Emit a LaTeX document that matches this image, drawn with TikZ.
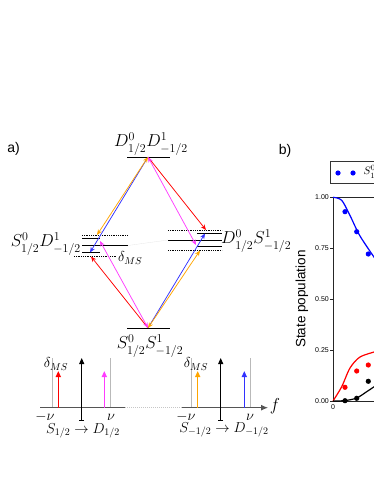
\documentclass[tikz,border=0pt]{standalone}
\usepackage{amsmath,amssymb}
\usepackage{fontspec}
\newfontfamily\arialfont{Liberation Sans}
\usetikzlibrary{arrows.meta}
\definecolor{lred}{RGB}{255,0,0}
\definecolor{lblue}{RGB}{50,50,255}
\definecolor{lmag}{RGB}{255,60,255}
\definecolor{lorange}{RGB}{255,165,0}
\definecolor{axgray}{RGB}{85,85,85}

\begin{document}
\begin{tikzpicture}[x=1pt, y=-1pt, >={Stealth[length=5.5pt,width=4.5pt]},
	lvl/.style={line width=0.9pt},
	vlvl/.style={line width=0.8pt, densely dotted},
	one/.style={line width=0.75pt, ->},
	two/.style={line width=0.75pt, <->},
	peak/.style={line width=1.4pt, -{Triangle[length=6pt,width=5pt]}},
	big/.style={font=\fontsize{17}{20}\selectfont},
	mid/.style={font=\fontsize{14}{16}\selectfont},
	sans/.style={font=\arialfont\fontsize{14}{16}\selectfont},
	tick/.style={font=\arialfont\fontsize{7}{8}\selectfont, inner sep=1pt}]
	\clip (0,0) rectangle (374,484);
	\node[sans] (la) at (13.5,149) {a)};
	\node[sans] (lb) at (285,150.5) {b)};
	\draw[lvl] (127,157) -- (170,157);
	\draw[lvl] (127,328) -- (170,328);
	\draw[vlvl] (82,235) -- (128,235);
	\draw[lvl] (82,238.5) -- (100,238.5);
	\draw[lvl] (82,245.5) -- (128,245.5);
	\draw[lvl] (82,252.5) -- (100,252.5);
	\draw[vlvl] (74,256.5) -- (117,256.5);
	\draw[vlvl] (168,230) -- (222,230);
	\draw[lvl] (197,233.5) -- (222,233.5);
	\draw[lvl] (168,240) -- (222,240);
	\draw[lvl] (197,246.5) -- (222,246.5);
	\draw[vlvl] (168,250.7) -- (222,250.7);
	\draw[gray!20, line width=0.3pt] (128,245.5) -- (168,240);
	\node[big] (dd) at (151,144) {$D^0_{1/2}D^1_{-1/2}$};
	\node[big] (ss) at (150,346) {$S^0_{1/2}S^1_{-1/2}$};
	\node[big, anchor=east, inner sep=0pt] (sd) at (81,244) {$S^0_{1/2}D^1_{-1/2}$};
	\node[big, anchor=west, inner sep=0pt] (ds) at (221,241) {$D^0_{1/2}S^1_{-1/2}$};
	\node[mid, anchor=west, inner sep=1pt] (dms) at (117,258) {$\delta_{MS}$};
	\coordinate (top) at (148,157);
	\coordinate (bot) at (148,328);
	\coordinate (Ldt) at (97,235);
	\coordinate (Lmid) at (100,241);
	\coordinate (Lsb) at (90,252.5);
	\coordinate (Ldb) at (91,256.5);
	\coordinate (Rdt) at (206,230);
	\coordinate (Rst) at (205,233.5);
	\coordinate (Rmid) at (196,245);
	\coordinate (Rdb) at (200,250.5);
	\foreach \a/\b/\c/\s in {bot/Ldb/lred/one, top/Rdt/lred/one, top/Lsb/lblue/one, bot/Rst/lblue/one, top/Ldt/lorange/two, bot/Rdb/lorange/two, bot/Lmid/lmag/two, top/Rmid/lmag/two} {\draw[\s, draw=\c] (\a) -- (\b);}
	\foreach \x in {52.7,110,191,250} {\draw[gray!55, line width=0.5pt] (\x,358) -- (\x,407.7);}
	\coordinate (ax0) at (40,407.7);
	\coordinate (axa) at (125,407.7);
	\coordinate (axb) at (182,407.7);
	\coordinate (ax1) at (268,407.7);
	\draw[axgray, line width=1pt] (ax0) -- (axa);
	\draw[gray!45, line width=1pt, densely dotted] (axa) -- (axb);
	\draw[axgray, line width=1pt, -{Latex[length=7pt,width=6pt]}] (axb) -- (ax1);
	\node[big] (f) at (275,406) {$f$};
	\foreach \x/\c in {58.3/lred, 104.3/lmag, 197.7/lorange, 244.3/lblue} {\draw[peak, \c] (\x,407.7) -- (\x,371);}
	\foreach \x in {81.7,220.7} {\draw[line width=1pt, {Bar[width=5pt]}-{Triangle[length=6pt,width=5pt]}] (\x,421) -- (\x,358);}
	\node[mid] (mn1) at (45,417) {$-\nu$};
	\node[mid] (nu1) at (111,417) {$\nu$};
	\node[mid] (mn2) at (186,417) {$-\nu$};
	\node[mid] (nu2) at (250,417) {$\nu$};
	\node[mid] (dl1) at (56,364) {$\delta_{MS}$};
	\node[mid] (dl2) at (196,364) {$\delta_{MS}$};
	\node[mid] (tr1) at (83,431) {$S_{1/2}\rightarrow D_{1/2}$};
	\node[mid] (tr2) at (224,430) {$S_{-1/2}\rightarrow D_{-1/2}$};
	\draw[black!80, line width=0.7pt] (330,161.7) rectangle (380,183.3);
	\foreach \x in {338,353} {\fill[blue] (\x,173) circle (2.6);}
	\node[anchor=west, font=\fontsize{11}{13}\selectfont] (leg) at (360,173) {$S^0_{1/2}S^1_{-1/2}$};
	\draw[black!85, line width=0.8pt] (380,197.3) -- (333,197.3) -- (333,401) -- (380,401);
	\foreach \v/\y [count=\i] in {1.00/197.3, 0.75/248.3, 0.50/299.2, 0.25/350.1, 0.00/401} {\draw[black!85, line width=0.6pt] (330,\y) -- (333,\y); \node[tick, anchor=east] (tk\i) at (330,\y) {\v};}
	\node[tick, anchor=north] (x0) at (333,403) {0};
	\node[sans, rotate=90, font=\arialfont\fontsize{13.5}{15}\selectfont] (ylab) at (302,299) {State population};
	\draw[blue, line width=1.2pt] plot[smooth] coordinates {(333,197.3) (341.7,200.3) (350,215.5) (360,236) (376,260)};
	\draw[red, line width=1.2pt] plot[smooth] coordinates {(333,401) (341.7,386.7) (350,368) (360,357) (376,351.5)};
	\draw[black, line width=1.2pt] plot[smooth] coordinates {(333,401) (345,400.6) (356.7,398) (366.7,391.7) (376,385.5)};
	\foreach \p in {(345,211.7), (356.7,231.7), (368.3,254)} {\fill[blue] \p circle (2.6);}
	\foreach \p in {(345,387.3), (356.7,371), (368.3,365)} {\fill[red] \p circle (2.6);}
	\foreach \p in {(345,400.7), (356.7,398.3), (368.3,381.3)} {\fill[black] \p circle (2.6);}
\end{tikzpicture}
\end{document}
